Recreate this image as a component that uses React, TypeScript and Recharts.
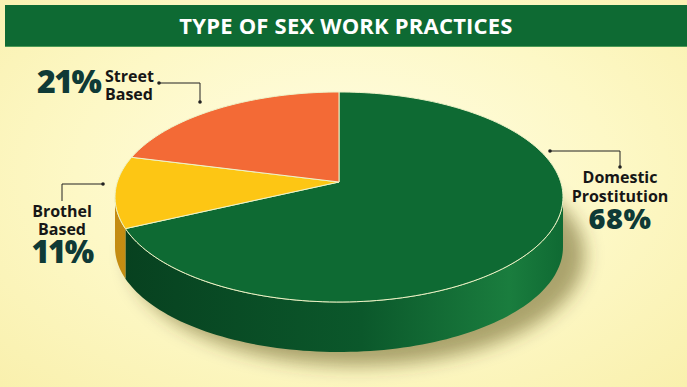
import { PieChart, Pie, Cell } from 'recharts';

// values
const practices = ['Domestic Prostitution', 'Brothel Based', 'Street Based'];
const shares = [68, 11, 21];

const data = practices.map((name, i) => ({ name, value: shares[i] }));

const TOP = ['#0e6a33', '#fdc614', '#f36a36'];
const SIDE = [
  ['#07401f', '#0b582b', '#1a7d3e', '#0f6a33'],
  ['#c48c12', '#d49c14', '#d49c14', '#d49c14'],
  ['#c9541f', '#d85d28', '#d85d28', '#d85d28'],
];

// simple perspective: the disc is tilted away, so the back half is squeezed
const Q = 1 / 7;
const SX = 221.7 / 224;
const SY = 102.86 / 224;
const DEPTH = 50;
const EDGE = (Math.asin(Q) * 180) / Math.PI; // where the rim turns away from view

const pt = (cx: number, cy: number, r: number, deg: number) => {
  const a = (deg * Math.PI) / 180;
  const d = 1 + Q * Math.sin(a);
  return [cx + (r * SX * Math.cos(a)) / d, cy - (r * SY * Math.sin(a)) / d];
};

const arc = (cx: number, cy: number, r: number, from: number, to: number) => {
  const n = Math.max(2, Math.ceil(Math.abs(to - from) / 1.5));
  const out: number[][] = [];
  for (let i = 0; i <= n; i++) out.push(pt(cx, cy, r, from + ((to - from) * i) / n));
  return out;
};

const toPath = (pts: number[][]) => pts.map((p, i) => `${i ? 'L' : 'M'}${p[0].toFixed(2)},${p[1].toFixed(2)}`).join(' ');

function Slice3D(props: any) {
  const { cx, cy, outerRadius, startAngle, endAngle } = props;
  const name = props.payload?.name ?? props.name;
  const idx = Math.max(0, practices.indexOf(name));
  const r = outerRadius;
  const hi = Math.max(startAngle, endAngle);
  const lo = Math.min(startAngle, endAngle);

  // visible part of the rim: between the left and right silhouette points (+360k)
  const walls: number[][] = [];
  for (let k = -2; k <= 1; k++) {
    const a = Math.max(lo, -180 + EDGE + 360 * k);
    const b = Math.min(hi, -EDGE + 360 * k);
    if (b > a) walls.push([a, b]);
  }

  const top = toPath([[cx, cy], ...arc(cx, cy, r, startAngle, endAngle)]) + ' Z';
  const gid = `side-grad-${idx}`;
  const c = SIDE[idx];

  return (
    <g>
      <defs>
        <linearGradient id={gid} x1={cx - r} x2={cx + r} y1={0} y2={0} gradientUnits="userSpaceOnUse">
          <stop offset="0%" stopColor={c[0]} />
          <stop offset="55%" stopColor={c[1]} />
          <stop offset="88%" stopColor={c[2]} />
          <stop offset="100%" stopColor={c[3]} />
        </linearGradient>
        <filter id="pie-shadow" x="-30%" y="-30%" width="160%" height="160%">
          <feGaussianBlur stdDeviation="9" />
        </filter>
      </defs>
      {idx === 0 && (
        <ellipse cx={cx + 18} cy={cy + 15 + DEPTH + 8} rx={r + 4} ry={111} fill="rgba(70,60,10,0.45)" filter="url(#pie-shadow)" />
      )}
      {walls.map(([a, b], i) => {
        const upper = arc(cx, cy, r, b, a);
        const lower = arc(cx, cy + DEPTH, r, a, b);
        return (
          <g key={i}>
            <path d={toPath([...upper, ...lower]) + ' Z'} fill={`url(#${gid})`} />
            <path d={toPath(upper)} fill="none" stroke="#dfe9b0" strokeWidth={1} opacity={0.8} />
          </g>
        );
      })}
      <path d={top} fill={TOP[idx]} stroke="#eef3c8" strokeWidth={1} strokeLinejoin="round" />
    </g>
  );
}

const pctStyle: React.CSSProperties = {
  position: 'absolute',
  fontFamily: '"Open Sans", sans-serif',
  fontWeight: 800,
  color: '#0f3a36',
  lineHeight: 0.8,
  whiteSpace: 'nowrap',
};

const nameStyle: React.CSSProperties = {
  position: 'absolute',
  fontFamily: '"Open Sans", sans-serif',
  fontWeight: 700,
  color: '#161616',
  fontSize: 16,
  lineHeight: '16px',
  whiteSpace: 'nowrap',
};

const words = (s: string) => s.split(' ');

export default function App() {
  const street = words(practices[2]);
  const brothel = words(practices[1]);
  const domestic = words(practices[0]);
  return (
    <div
      style={{
        position: 'absolute',
        left: 0,
        top: 0,
        width: 687,
        height: 387,
        overflow: 'hidden',
        background: 'radial-gradient(ellipse at 50% 45%, #fffde4 0%, #fdf8c6 55%, #f9f0ad 100%)',
      }}
    >
      <div
        style={{
          position: 'absolute',
          left: 5,
          top: 5,
          width: 682,
          height: 41,
          background: '#0e6a33',
          borderBottom: '1px solid #4c9a55',
          color: '#fff',
          fontFamily: '"Open Sans", sans-serif',
          fontWeight: 700,
          fontSize: 22,
          lineHeight: '41px',
          textAlign: 'center',
          letterSpacing: 0.2,
        }}
      >
        TYPE OF SEX WORK PRACTICES
      </div>

      <div style={{ position: 'absolute', left: 0, top: 0 }}>
        <PieChart width={687} height={387}>
          <Pie
            data={data}
            dataKey="value"
            nameKey="name"
            cx={334}
            cy={177}
            outerRadius={224}
            startAngle={90}
            endAngle={-270}
            stroke="none"
            isAnimationActive={false}
            shape={Slice3D}
            activeShape={Slice3D}
            inactiveShape={Slice3D}
          >
            {data.map((d, i) => (
              <Cell key={d.name} fill={TOP[i]} />
            ))}
          </Pie>
        </PieChart>
      </div>

      <svg width={687} height={387} style={{ position: 'absolute', left: 0, top: 0, pointerEvents: 'none' }}>
        <g fill="none" stroke="#222" strokeWidth={1}>
          <polyline points="159,83 200,83 200,102" />
          <polyline points="62,201 62,184 103,184" />
          <polyline points="550,151 620,151 620,167" />
        </g>
        <g fill="#222">
          <circle cx={159} cy={83} r={1.8} />
          <circle cx={200} cy={102} r={1.8} />
          <circle cx={103} cy={184} r={1.8} />
          <circle cx={550} cy={151} r={1.8} />
          <circle cx={620} cy={167} r={1.8} />
        </g>
      </svg>

      {/* Street Based */}
      <div style={{ ...pctStyle, left: 37, top: 68, fontSize: 32, letterSpacing: -1.5 }}>{shares[2]}%</div>
      <div style={{ ...nameStyle, left: 105, top: 68 }}>{street[0]}</div>
      <div style={{ ...nameStyle, left: 105, top: 86 }}>{street[1]}</div>

      {/* Brothel Based */}
      <div style={{ ...nameStyle, left: 12, width: 100, top: 203, textAlign: 'center' }}>{brothel[0]}</div>
      <div style={{ ...nameStyle, left: 12, width: 100, top: 221, textAlign: 'center' }}>{brothel[1]}</div>
      <div style={{ ...pctStyle, left: 12, width: 100, top: 239, fontSize: 31, letterSpacing: -1.5, textAlign: 'center' }}>
        {shares[1]}%
      </div>

      {/* Domestic Prostitution */}
      <div style={{ ...nameStyle, left: 560, width: 120, top: 169, textAlign: 'center' }}>{domestic[0]}</div>
      <div style={{ ...nameStyle, left: 560, width: 120, top: 188, textAlign: 'center' }}>{domestic[1]}</div>
      <div style={{ ...pctStyle, left: 560, width: 120, top: 206, fontSize: 29, letterSpacing: 0.5, textAlign: 'center' }}>
        {shares[0]}%
      </div>
    </div>
  );
}
